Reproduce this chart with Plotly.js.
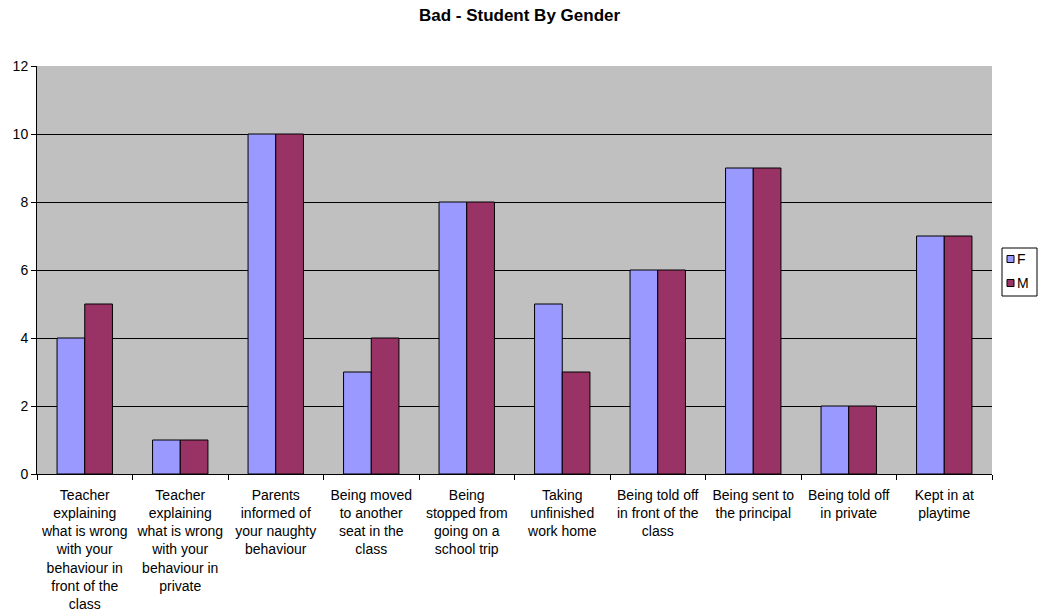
<!DOCTYPE html>
<html>
<head>
<meta charset="utf-8">
<script src="https://cdn.plot.ly/plotly-3.0.1.min.js"></script>
<style>html,body{margin:0;padding:0;background:#fff;}#chart{width:1039px;height:611px;}</style>
</head>
<body>
<div id="chart"></div>
<script>
const categories = [
  "Teacher<br>explaining<br>what is wrong<br>with your<br>behaviour in<br>front of the<br>class",
  "Teacher<br>explaining<br>what is wrong<br>with your<br>behaviour in<br>private",
  "Parents<br>informed of<br>your naughty<br>behaviour",
  "Being moved<br>to another<br>seat in the<br>class",
  "Being<br>stopped from<br>going on a<br>school trip",
  "Taking<br>unfinished<br>work home",
  "Being told off<br>in front of the<br>class",
  "Being sent to<br>the principal",
  "Being told off<br>in private",
  "Kept in at<br>playtime"
];
const seriesNames = ["F", "M"];
const femaleValues = [4, 1, 10, 3, 8, 5, 6, 9, 2, 7];
const maleValues = [5, 1, 10, 4, 8, 3, 6, 9, 2, 7];
const yTicks = [0, 2, 4, 6, 8, 10, 12];
const seriesColors = ["#9999FF", "#993366"];

const font = "Liberation Sans, Arial, sans-serif";
const W = 1039, H = 611;
const M = {l: 37, r: 47, t: 66, b: 137};
const pw = W - M.l - M.r, ph = H - M.t - M.b;
const px = x => (x - M.l) / pw;
const py = y => (H - M.b - y) / ph;

const data = [
  {type: "bar", name: seriesNames[0], x: categories, y: femaleValues,
   marker: {color: seriesColors[0], line: {color: "#000000", width: 1}}, hoverinfo: "none"},
  {type: "bar", name: seriesNames[1], x: categories, y: maleValues,
   marker: {color: seriesColors[1], line: {color: "#000000", width: 1}}, hoverinfo: "none"}
];

// Manual legend (compact box like the reference)
const shapes = [
  {type: "rect", xref: "paper", yref: "paper", x0: px(1002), x1: px(1037), y0: py(248), y1: py(296),
   line: {color: "#000", width: 1}, fillcolor: "#fff"}
];
const annotations = [];
const legendY = [259, 283];
seriesNames.forEach((n, i) => {
  shapes.push({type: "rect", xref: "paper", yref: "paper", x0: px(1007), x1: px(1014),
    y0: py(legendY[i] + 3.5), y1: py(legendY[i] - 3.5), line: {color: "#000", width: 1}, fillcolor: seriesColors[i]});
  annotations.push({xref: "paper", yref: "paper", x: px(1015), y: py(legendY[i]), xanchor: "left", yanchor: "middle",
    text: n, showarrow: false, font: {family: font, size: 14, color: "#000"}});
});

const layout = {
  width: W, height: H,
  margin: {l: M.l, r: M.r, t: M.t, b: M.b, autoexpand: false},
  paper_bgcolor: "#ffffff",
  plot_bgcolor: "#C0C0C0",
  font: {family: font, size: 14, color: "#000000"},
  title: {text: "<b>Bad - Student By Gender</b>", font: {family: font, size: 17}, x: 0.5, xref: "container", xanchor: "center", y: 0.975, yanchor: "middle"},
  barmode: "group",
  bargap: 0.42,
  bargroupgap: 0,
  showlegend: false,
  xaxis: {
    type: "category", tickson: "boundaries", ticks: "outside", ticklen: 5, tickcolor: "#000",
    showline: true, linecolor: "#000", linewidth: 1, showgrid: false, tickangle: 0,
    tickfont: {family: font, size: 14}, automargin: false, ticklabelstandoff: 8
  },
  yaxis: {
    range: [0, 12], tickvals: yTicks, ticks: "outside", ticklen: 5, tickcolor: "#000",
    showline: true, linecolor: "#000", linewidth: 1, showgrid: true, gridcolor: "#000", gridwidth: 1,
    zeroline: false, tickfont: {family: font, size: 14}, automargin: false
  },
  shapes: shapes,
  annotations: annotations
};
Plotly.newPlot("chart", data, layout, {displayModeBar: false, staticPlot: true});
</script>
</body>
</html>
